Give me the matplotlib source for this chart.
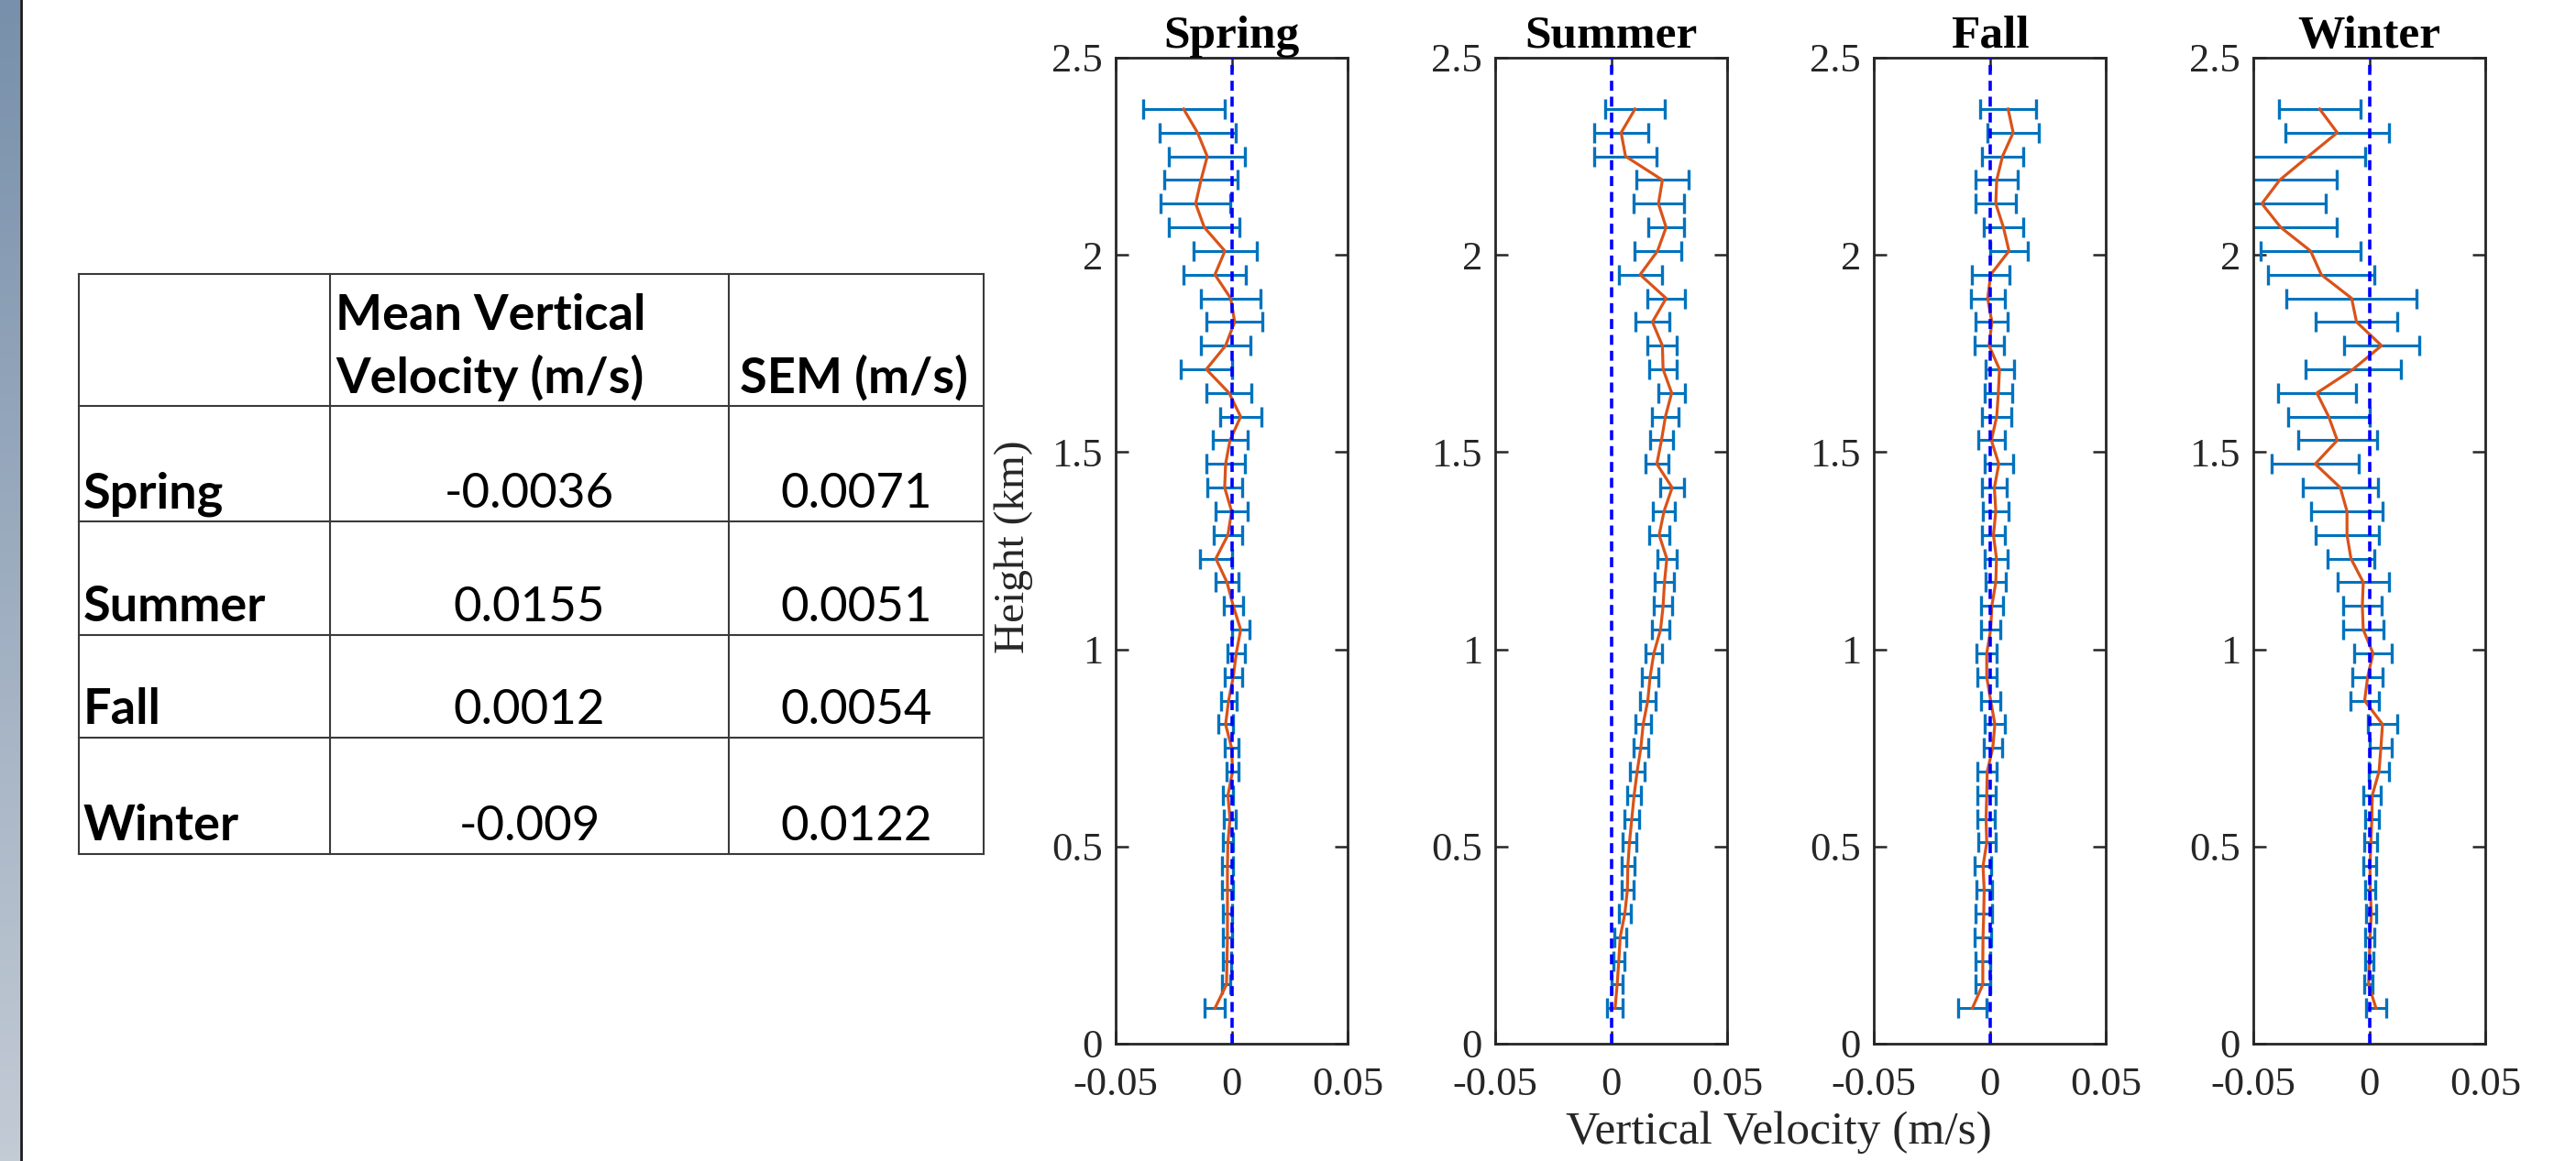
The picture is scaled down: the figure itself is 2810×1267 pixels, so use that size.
import numpy as np
import matplotlib
matplotlib.use("Agg")
import matplotlib.pyplot as plt
from matplotlib.colors import LinearSegmentedColormap
from matplotlib.lines import Line2D

# heights of the profile levels (km)
heights = [0.09, 0.15, 0.21, 0.27, 0.33, 0.39, 0.45, 0.51, 0.57, 0.63,
           0.69, 0.75, 0.81, 0.87, 0.93, 0.99, 1.05, 1.11, 1.17, 1.23,
           1.29, 1.35, 1.41, 1.47, 1.53, 1.59, 1.65, 1.71, 1.77, 1.83,
           1.89, 1.95, 2.01, 2.07, 2.13, 2.19, 2.25, 2.31, 2.37]

seasons = ["Spring", "Summer", "Fall", "Winter"]

spring_mean = [-0.0072, -0.0022, -0.0020, -0.0018, -0.0018, -0.0018, -0.0018, -0.0016, -0.0007, -0.0016,
               0.0004, 0.0000, -0.0026, -0.0013, 0.0007, 0.0020, 0.0039, 0.0007, -0.0020, -0.0068,
               -0.0016, 0.0000, -0.0030, -0.0026, -0.0007, 0.0039, -0.0011, -0.0109, -0.0026, 0.0013,
               -0.0004, -0.0072, -0.0029, -0.0118, -0.0155, -0.0132, -0.0105, -0.0147, -0.0207]
spring_sem = [0.0043, 0.0018, 0.0018, 0.0020, 0.0020, 0.0022, 0.0022, 0.0022, 0.0025, 0.0023,
              0.0024, 0.0028, 0.0033, 0.0034, 0.0038, 0.0037, 0.0039, 0.0042, 0.0051, 0.0068,
              0.0063, 0.0070, 0.0074, 0.0082, 0.0076, 0.0088, 0.0097, 0.0111, 0.0107, 0.0120,
              0.0130, 0.0134, 0.0136, 0.0151, 0.0150, 0.0157, 0.0164, 0.0164, 0.0176]

summer_mean = [0.0017, 0.0026, 0.0033, 0.0039, 0.0059, 0.0070, 0.0072, 0.0079, 0.0089, 0.0099,
               0.0112, 0.0128, 0.0138, 0.0158, 0.0168, 0.0184, 0.0213, 0.0224, 0.0230, 0.0240,
               0.0207, 0.0228, 0.0263, 0.0197, 0.0217, 0.0234, 0.0261, 0.0224, 0.0221, 0.0178,
               0.0237, 0.0125, 0.0200, 0.0237, 0.0204, 0.0221, 0.0062, 0.0043, 0.0103]
summer_sem = [0.0034, 0.0024, 0.0024, 0.0025, 0.0025, 0.0025, 0.0028, 0.0030, 0.0030, 0.0030,
              0.0031, 0.0033, 0.0033, 0.0033, 0.0034, 0.0036, 0.0038, 0.0040, 0.0041, 0.0042,
              0.0043, 0.0047, 0.0051, 0.0049, 0.0050, 0.0058, 0.0056, 0.0058, 0.0063, 0.0072,
              0.0081, 0.0093, 0.0101, 0.0076, 0.0109, 0.0113, 0.0134, 0.0116, 0.0130]

fall_mean = [-0.0075, -0.0030, -0.0030, -0.0029, -0.0026, -0.0024, -0.0029, -0.0013, -0.0016, -0.0013,
             -0.0011, 0.0013, 0.0022, 0.0004, -0.0013, -0.0013, 0.0004, 0.0009, 0.0026, 0.0029,
             0.0016, 0.0026, 0.0020, 0.0039, 0.0007, 0.0030, 0.0037, 0.0042, -0.0003, 0.0009,
             -0.0009, 0.0004, 0.0083, 0.0059, 0.0026, 0.0030, 0.0055, 0.0101, 0.0079]
fall_sem = [0.0061, 0.0033, 0.0033, 0.0035, 0.0036, 0.0035, 0.0035, 0.0038, 0.0039, 0.0040,
            0.0041, 0.0040, 0.0042, 0.0043, 0.0042, 0.0043, 0.0043, 0.0047, 0.0045, 0.0049,
            0.0049, 0.0055, 0.0055, 0.0061, 0.0058, 0.0063, 0.0059, 0.0061, 0.0064, 0.0070,
            0.0074, 0.0082, 0.0080, 0.0084, 0.0088, 0.0090, 0.0089, 0.0111, 0.0122]

winter_mean = [0.0029, -0.0003, 0.0000, 0.0003, 0.0009, 0.0004, 0.0003, 0.0007, 0.0011, 0.0013,
               0.0042, 0.0050, 0.0057, -0.0020, -0.0007, 0.0016, -0.0026, -0.0030, -0.0026, -0.0079,
               -0.0096, -0.0096, -0.0125, -0.0233, -0.0138, -0.0175, -0.0226, -0.0070, 0.0053, -0.0055,
               -0.0076, -0.0207, -0.0253, -0.0382, -0.0463, -0.0386, -0.0263, -0.0138, -0.0214]
winter_sem = [0.0044, 0.0018, 0.0018, 0.0020, 0.0021, 0.0021, 0.0027, 0.0028, 0.0030, 0.0038,
              0.0043, 0.0048, 0.0062, 0.0061, 0.0066, 0.0081, 0.0087, 0.0084, 0.0111, 0.0102,
              0.0136, 0.0155, 0.0163, 0.0189, 0.0170, 0.0176, 0.0168, 0.0206, 0.0163, 0.0176,
              0.0281, 0.0228, 0.0214, 0.0241, 0.0275, 0.0245, 0.0247, 0.0224, 0.0176]

# summary table
table_mean = ["-0.0036", "0.0155", "0.0012", "-0.009"]
table_sem = ["0.0071", "0.0051", "0.0054", "0.0122"]

means = [spring_mean, summer_mean, fall_mean, winter_mean]
sems = [spring_sem, summer_sem, fall_sem, winter_sem]

W, H = 2810, 1267
fig = plt.figure(figsize=(W / 100, H / 100), dpi=100)
fig.patch.set_facecolor("white")

serif = "Liberation Serif"
sans = "Lato"

# slide-style gradient strip on the far left
strip = fig.add_axes([0, 0, 22 / W, 1])
grad = np.linspace(0, 1, 256).reshape(-1, 1)
cmap = LinearSegmentedColormap.from_list("strip", ["#7890ab", "#c3cbd5"])
strip.imshow(grad, aspect="auto", cmap=cmap, extent=[0, 1, 1, 0])
strip.axis("off")
fig.add_artist(Line2D([23 / W, 23 / W], [0, 1], color="#1a1a1a", lw=2))

# table drawn in pixel coordinates
tab = fig.add_axes([0, 0, 1, 1], zorder=-1)
tab.set_xlim(0, W)
tab.set_ylim(H, 0)
tab.axis("off")
col_x = [86, 360, 795, 1073]
row_y = [299, 443, 569, 693, 805, 932]
for y in row_y:
    tab.plot([col_x[0], col_x[-1]], [y, y], color="#3a3a3a", lw=1.5)
for x in col_x:
    tab.plot([x, x], [row_y[0], row_y[-1]], color="#3a3a3a", lw=1.5)

fs_tab = 39
tab.text(col_x[1] + 6, 360, "Mean Vertical", family=sans, fontweight="bold",
         fontsize=fs_tab, va="baseline")
tab.text(col_x[1] + 6, 429, "Velocity (m/s)", family=sans, fontweight="bold",
         fontsize=fs_tab, va="baseline")
tab.text(col_x[2] + 12, 429, "SEM (m/s)", family=sans, fontweight="bold",
         fontsize=fs_tab, va="baseline")
for i, name in enumerate(seasons):
    base = row_y[i + 2] - 15
    tab.text(col_x[0] + 5, base, name, family=sans, fontweight="bold",
             fontsize=fs_tab, va="baseline")
    tab.text((col_x[1] + col_x[2]) / 2, base, table_mean[i], family=sans,
             fontsize=38, va="baseline", ha="center")
    tab.text((col_x[2] + col_x[3]) / 2, base, table_sem[i], family=sans,
             fontsize=38, va="baseline", ha="center")

# profile panels
lefts = [1217, 1631, 2044, 2458]
ax_w, ax_h, ax_b = 253, 1076, 128
for name, m, s, left in zip(seasons, means, sems, lefts):
    ax = fig.add_axes([left / W, ax_b / H, ax_w / W, ax_h / H])
    ax.errorbar(m, heights, xerr=s, fmt="none", ecolor="#0072BD",
                elinewidth=2.2, capsize=8, capthick=2.4, zorder=2)
    ax.plot(m, heights, color="#D95319", lw=2.3, zorder=3)
    ax.axvline(0, color="#0000ff", lw=2.6, ls=(0, (3, 1.8)), zorder=4)
    ax.set_xlim(-0.05, 0.05)
    ax.set_ylim(0, 2.5)
    ax.set_xticks([-0.05, 0, 0.05])
    ax.set_xticklabels(["-0.05", "0", "0.05"], family=serif)
    ax.set_yticks([0, 0.5, 1, 1.5, 2, 2.5])
    ax.set_yticklabels(["0", "0.5", "1", "1.5", "2", "2.5"], family=serif)
    ax.tick_params(direction="in", length=10, width=1.8, top=True, right=True,
                   labelsize=32, colors="#262626")
    ax.tick_params(axis="x", pad=18)
    ax.tick_params(axis="y", pad=10)
    for sp in ax.spines.values():
        sp.set_linewidth(2.0)
        sp.set_color("#262626")
    ax.set_title(name, family=serif, fontweight="bold", fontsize=37, pad=8)

fig.text(1106 / W, 1 - 597 / H, "Height (km)", family=serif, fontsize=34,
         rotation=90, ha="center", va="center", color="#262626")
fig.text(1940 / W, 1 - 1236 / H, "Vertical Velocity (m/s)", family=serif,
         fontsize=37, ha="center", va="center", color="#262626")

fig.savefig("out.png", dpi=100)
